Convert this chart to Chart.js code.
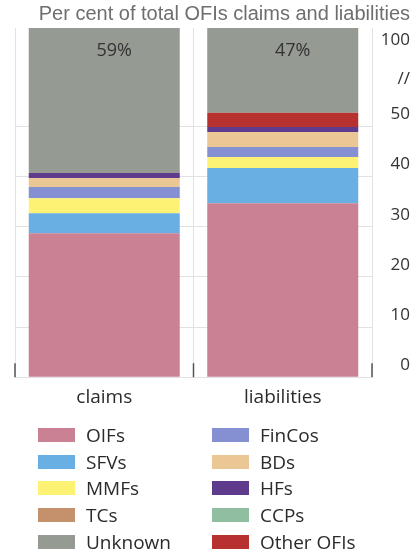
<!DOCTYPE html>
<html>
<head>
<meta charset="utf-8">
<script src="https://cdn.jsdelivr.net/npm/chart.js@4.4.1/dist/chart.umd.min.js"></script>
<style>
  html, body { margin: 0; padding: 0; background: #fff; }
  #wrap { position: relative; width: 419px; height: 553px; }
  #legend {
    position: absolute; left: 38px; top: 421.6px;
    display: grid; grid-auto-flow: column;
    grid-template-columns: 174px auto;
    grid-template-rows: repeat(5, 26.75px);
    font-family: "Open Sans", sans-serif; font-size: 19px; color: #2b2b2b;
  }
  #legend .item { display: flex; align-items: center; white-space: nowrap; }
  #legend .box { width: 37px; height: 14px; margin-right: 11px; }
</style>
</head>
<body>
<div id="wrap">
  <canvas id="chart" width="419" height="553"></canvas>
  <div id="legend"></div>
</div>
<script>
// ===================== Data ===================

const categories = ['claims', 'liabilities'];

const oifs      = [28.7, 34.7];
const sfvs      = [4.0, 7.0];
const mmfs      = [3.0, 2.2];
const tcs       = [0, 0];
const fincos    = [2.2, 2.0];
const bds       = [1.8, 3.0];
const hfs       = [1.0, 1.0];
const ccps      = [0, 0];
const otherOfis = [0, 2.8];
const unknown   = [59.3, 47.3];

// y axis is broken above 55
const yTickValues = [0, 10, 20, 30, 40, 50, 61, 85];
const yTickLabels = ['0', '10', '20', '30', '40', '50', '//', '100'];

const titleText = 'Per cent of total OFIs claims and liabilities';

// stacking order bottom -> top
const series = [
  { label: 'OIFs',       data: oifs,      color: '#c98193' },
  { label: 'SFVs',       data: sfvs,      color: '#6aafe4' },
  { label: 'MMFs',       data: mmfs,      color: '#fdf274' },
  { label: 'TCs',        data: tcs,       color: '#c4916c' },
  { label: 'FinCos',     data: fincos,    color: '#8490d2' },
  { label: 'BDs',        data: bds,       color: '#eac795' },
  { label: 'HFs',        data: hfs,       color: '#5e3b8c' },
  { label: 'CCPs',       data: ccps,      color: '#8fbfa0' },
  { label: 'Other OFIs', data: otherOfis, color: '#b83131' },
  { label: 'Unknown',    data: unknown,   color: '#959a93' }
];

const legendOrder = ['OIFs', 'SFVs', 'MMFs', 'TCs', 'Unknown',
                     'FinCos', 'BDs', 'HFs', 'CCPs', 'Other OFIs'];

// ===================== Broken scale ===================

const BREAK_AT = 55;
const LOW_SHARE = 0.79;
const LAST_GRID = 50;

function toDecimal(v) {
  if (v <= BREAK_AT) return v / BREAK_AT * LOW_SHARE;
  return LOW_SHARE + (v - BREAK_AT) / (100 - BREAK_AT) * (1 - LOW_SHARE);
}

function fromDecimal(d) {
  if (d <= LOW_SHARE) return d / LOW_SHARE * BREAK_AT;
  return BREAK_AT + (d - LOW_SHARE) / (1 - LOW_SHARE) * (100 - BREAK_AT);
}

class BrokenScale extends Chart.LinearScale {
  getPixelForValue(value) {
    if (value === null || isNaN(value)) return NaN;
    return this.getPixelForDecimal(toDecimal(value));
  }
  getValueForPixel(pixel) {
    return fromDecimal(this.getDecimalForPixel(pixel));
  }
}
BrokenScale.id = 'broken';
BrokenScale.defaults = Chart.LinearScale.defaults;
Chart.register(BrokenScale);

// ===================== Plugins ===================

const boundaryMarks = {
  id: 'boundaryMarks',
  afterDatasetsDraw(chart) {
    const x = chart.scales.x;
    const ctx = chart.ctx;
    const half = (x.getPixelForValue(1) - x.getPixelForValue(0)) / 2;
    const xs = [x.getPixelForValue(0) - half, x.getPixelForValue(0) + half, x.getPixelForValue(1) + half];
    ctx.save();
    ctx.strokeStyle = '#555';
    ctx.lineWidth = 1.5;
    xs.forEach(px => {
      ctx.beginPath();
      ctx.moveTo(px, chart.chartArea.bottom - 14);
      ctx.lineTo(px, chart.chartArea.bottom);
      ctx.stroke();
    });
    ctx.restore();
  }
};

const shareLabels = {
  id: 'shareLabels',
  afterDatasetsDraw(chart) {
    const idx = series.findIndex(s => s.label === 'Unknown');
    const meta = chart.getDatasetMeta(idx);
    const ctx = chart.ctx;
    ctx.save();
    ctx.font = '18px "Open Sans"';
    ctx.fillStyle = '#333';
    ctx.textAlign = 'center';
    ctx.textBaseline = 'middle';
    meta.data.forEach((bar, i) => {
      ctx.fillText(Math.round(unknown[i]) + '%', bar.x + 10, bar.y + 23);
    });
    ctx.restore();
  }
};

// ===================== Chart ===================

new Chart(document.getElementById('chart'), {
  type: 'bar',
  data: {
    labels: categories,
    datasets: series.map(s => ({
      label: s.label,
      data: s.data,
      backgroundColor: s.color,
      borderWidth: 0,
      barPercentage: 1,
      categoryPercentage: 0.846
    }))
  },
  options: {
    responsive: false,
    animation: false,
    layout: { padding: { left: 15, right: 9, top: 0, bottom: 135 } },
    plugins: {
      legend: { display: false },
      tooltip: { enabled: false },
      title: {
        display: true,
        text: titleText,
        align: 'end',
        color: '#6e6e6e',
        font: { family: '"Liberation Sans", Arial, sans-serif', size: 20, weight: 'normal' },
        padding: { top: 2, bottom: 2 }
      }
    },
    scales: {
      x: {
        stacked: true,
        border: { display: false },
        grid: { offset: true, color: '#e2e2e2', drawTicks: false },
        ticks: {
          padding: 9,
          color: '#2b2b2b',
          font: { family: '"Open Sans"', size: 19 }
        }
      },
      y: {
        type: 'broken',
        position: 'right',
        stacked: true,
        min: 0,
        max: 100,
        border: { display: false },
        grid: {
          drawTicks: false,
          color: c => (c.tick && c.tick.value <= LAST_GRID ? '#e2e2e2' : 'rgba(0,0,0,0)')
        },
        afterBuildTicks: scale => {
          scale.ticks = yTickValues.map(v => ({ value: v }));
        },
        afterFit: scale => { scale.width = 38; },
        ticks: {
          autoSkip: false,
          padding: 9,
          crossAlign: 'far',
          labelOffset: -12,
          color: '#333',
          font: { family: '"Open Sans"', size: 17 },
          callback: (value, index) => yTickLabels[index]
        }
      }
    }
  },
  plugins: [boundaryMarks, shareLabels]
});

// ===================== Legend ===================

const legendEl = document.getElementById('legend');
legendOrder.forEach(name => {
  const s = series.find(item => item.label === name);
  const item = document.createElement('div');
  item.className = 'item';
  item.innerHTML = `<span class="box" style="background:${s.color}"></span><span>${s.label}</span>`;
  legendEl.appendChild(item);
});
</script>
</body>
</html>
